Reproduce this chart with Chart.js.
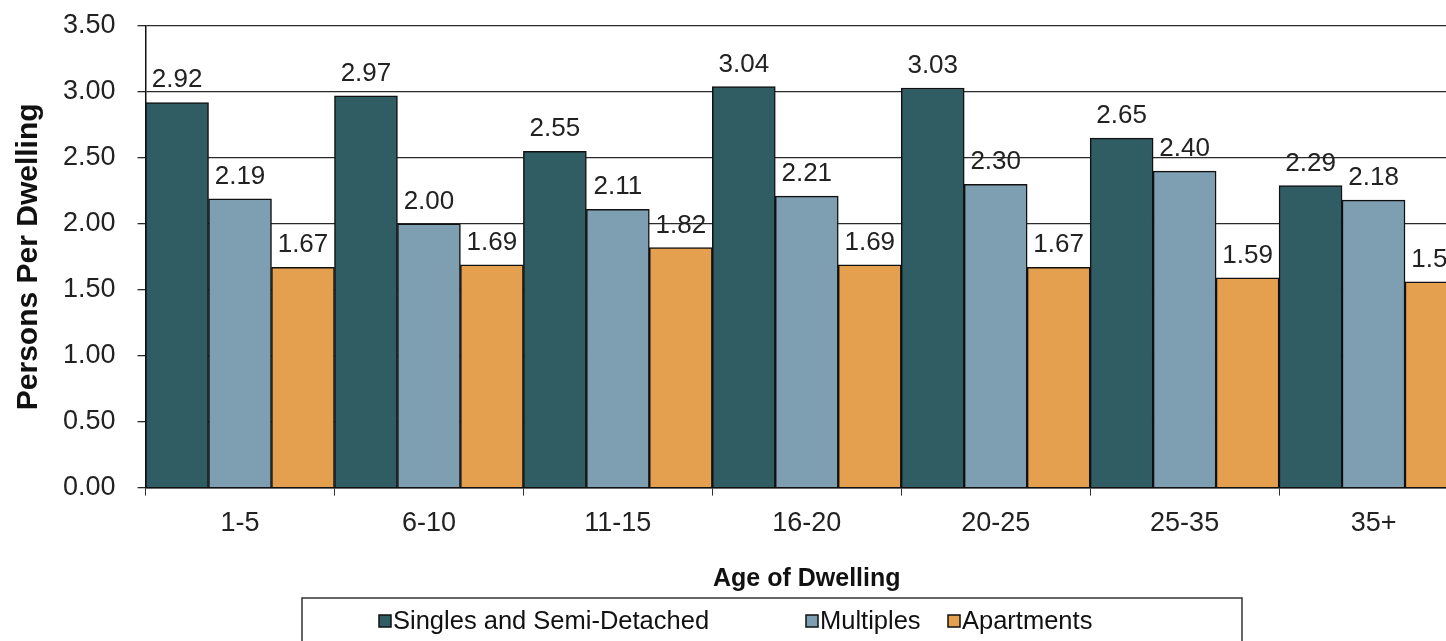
<!DOCTYPE html>
<html>
<head>
<meta charset="utf-8">
<script src="https://cdn.jsdelivr.net/npm/chart.js@4"></script>
<style>
  html, body { margin: 0; padding: 0; background: #fff; overflow: hidden; }
  #wrap { width: 1470px; height: 660px; }
</style>
</head>
<body>
<div id="wrap"><canvas id="chart"></canvas></div>
<script>
// données
const ageLabels = ['1-5', '6-10', '11-15', '16-20', '20-25', '25-35', '35+'];
const singles = [2.92, 2.97, 2.55, 3.04, 3.03, 2.65, 2.29];
const multiples = [2.19, 2.00, 2.11, 2.21, 2.30, 2.40, 2.18];
const apartments = [1.67, 1.69, 1.82, 1.69, 1.67, 1.59, 1.56];

const FONT = 'Arial, "Liberation Sans", sans-serif';

// étiquettes de valeur au-dessus des barres
const valueLabels = {
  id: 'valueLabels',
  afterDatasetsDraw(chart) {
    const ctx = chart.ctx;
    ctx.save();
    ctx.font = '26px ' + FONT;
    ctx.fillStyle = '#222';
    ctx.textAlign = 'center';
    ctx.textBaseline = 'alphabetic';
    chart.data.datasets.forEach((ds, i) => {
      chart.getDatasetMeta(i).data.forEach((bar, j) => {
        ctx.fillText(ds.data[j].toFixed(2), bar.x, bar.y - 15);
      });
    });
    ctx.restore();
  }
};

// légende encadrée (style Excel)
const boxedLegend = {
  id: 'boxedLegend',
  afterDraw(chart) {
    const ctx = chart.ctx;
    const itemX = [379, 806, 948];
    const cy = 621;
    ctx.save();
    ctx.strokeStyle = '#333';
    ctx.lineWidth = 1.5;
    ctx.strokeRect(302, 598, 940, 80);
    ctx.font = '25.5px ' + FONT;
    ctx.textBaseline = 'middle';
    ctx.textAlign = 'left';
    chart.data.datasets.forEach((ds, i) => {
      ctx.fillStyle = ds.backgroundColor;
      ctx.fillRect(itemX[i], cy - 6, 12, 12);
      ctx.strokeStyle = '#111';
      ctx.lineWidth = 1.5;
      ctx.strokeRect(itemX[i], cy - 6, 12, 12);
      ctx.fillStyle = '#111';
      ctx.fillText(ds.label, itemX[i] + 14, cy + 1);
    });
    ctx.restore();
  }
};

const ctx = document.getElementById('chart').getContext('2d');
new Chart(ctx, {
  type: 'bar',
  data: {
    labels: ageLabels,
    datasets: [
      { label: 'Singles and Semi-Detached', data: singles, backgroundColor: '#305c64', borderColor: '#111', borderWidth: 1.5 },
      { label: 'Multiples', data: multiples, backgroundColor: '#7e9fb2', borderColor: '#111', borderWidth: 1.5 },
      { label: 'Apartments', data: apartments, backgroundColor: '#e4a04f', borderColor: '#111', borderWidth: 1.5 }
    ]
  },
  options: {
    responsive: true,
    maintainAspectRatio: false,
    animation: false,
    layout: { padding: { top: 26, right: 2, left: 11, bottom: 64 } },
    datasets: { bar: { categoryPercentage: 1.0, barPercentage: 1.0 } },
    scales: {
      x: {
        grid: { display: true, drawOnChartArea: false, drawTicks: true, tickLength: 8, color: '#333' },
        border: { color: '#111', width: 1.5 },
        ticks: { font: { size: 27, family: FONT }, color: '#222', padding: 12 },
        title: { display: true, text: 'Age of Dwelling', font: { size: 25, weight: 'bold', family: FONT }, color: '#111', padding: { top: 12, bottom: 2 } }
      },
      y: {
        min: 0,
        max: 3.5,
        // le padding des graduations ne doit pas décaler le haut du graphique
        afterFit(scale) { scale.paddingTop = 0; scale.paddingBottom = 0; },
        ticks: { stepSize: 0.5, font: { size: 27, family: FONT }, color: '#222', padding: 22, callback: v => v.toFixed(2) },
        grid: { color: '#2a2a2a', lineWidth: 1.3, tickLength: 8 },
        border: { color: '#111', width: 1.5 },
        title: { display: true, text: 'Persons Per Dwelling', font: { size: 30, weight: 'bold', family: FONT }, color: '#111', padding: { top: 0, bottom: -6 } }
      }
    },
    plugins: {
      legend: { display: false },
      tooltip: { enabled: false }
    }
  },
  plugins: [valueLabels, boxedLegend]
});
</script>
</body>
</html>
